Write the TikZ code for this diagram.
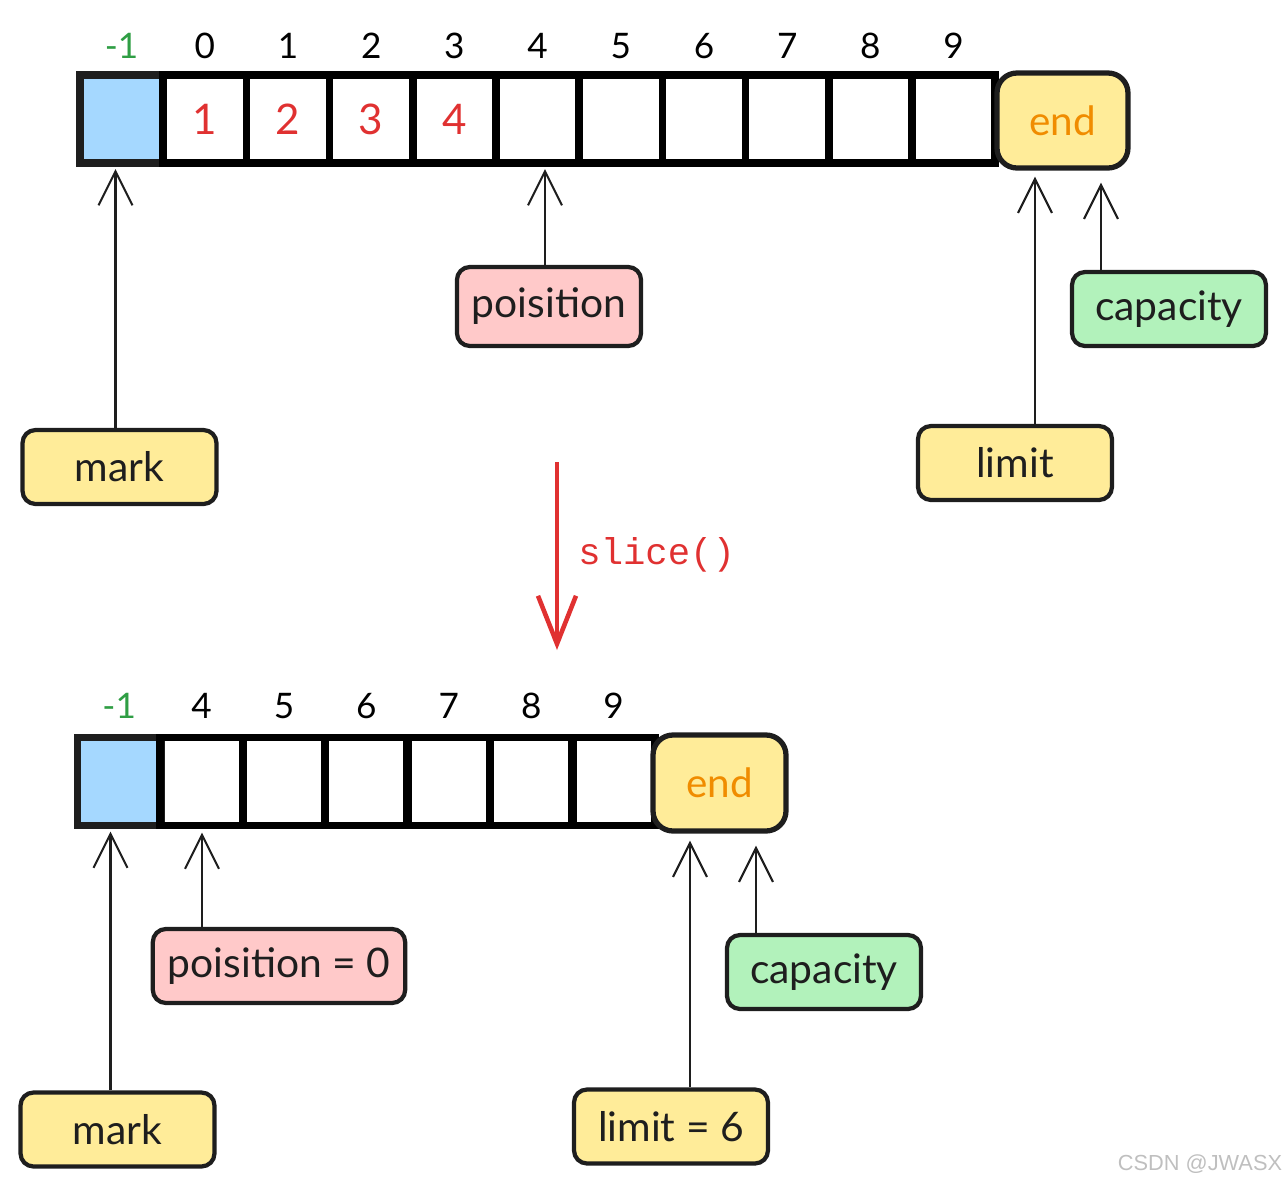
\documentclass[tikz,border=0pt]{standalone}
\usepackage{fontspec}
\setmainfont{Lato}
\setmonofont{Liberation Mono}
\newfontfamily\wmfont{Liberation Sans}
\usetikzlibrary{arrows.meta}
\definecolor{ink}{HTML}{1E1E1E}
\definecolor{cellblue}{HTML}{A5D8FF}
\definecolor{tagyellow}{HTML}{FFEC99}
\definecolor{tagpink}{HTML}{FFC9C9}
\definecolor{taggreen}{HTML}{B2F2BB}
\definecolor{sliceRed}{HTML}{E03131}
\definecolor{idxGreen}{HTML}{2F9E44}
\definecolor{endOrange}{HTML}{F08C00}
\begin{document}
\begin{tikzpicture}[>={Straight Barb[length=3.4mm,width=3.4mm]},
  cell/.style={draw=black,line width=2.2pt,minimum width=8.32mm,minimum height=8.8mm,inner sep=0pt,outer sep=0pt},
  tag/.style={draw=ink,line width=1.2pt,rounded corners=1.3mm,minimum height=7.4mm,minimum width=19.4mm,
    inner xsep=1.5mm,font=\fontsize{11.6}{13}\selectfont,text=ink},
  endbox/.style={draw=ink,fill=tagyellow,line width=1.5pt,rounded corners=2mm,minimum width=13.1mm,minimum height=9.5mm,
    font=\fontsize{11.5}{13}\selectfont,text=endOrange},
  idx/.style={anchor=base,font=\fontsize{10}{12}\selectfont},
  ptr/.style={->,draw=ink,line width=0.6pt}]
\useasboundingbox (0,0) rectangle (12.86,-11.86);

% before slice()
\node[cell,fill=cellblue,draw=ink] (a0) at (1.216,-1.19) {};
\node[idx,text=idxGreen] at ([yshift=1.7mm]a0.north) {-1};
\foreach \k [evaluate=\k as \lab using int(\k-1)] in {1,...,10}{
  \node[cell] (a\k) at ({1.216+0.832*\k},-1.19) {};
  \node[idx] at ([yshift=1.7mm]a\k.north) {\lab};
}
\foreach \k in {1,...,4}
  \node[text=sliceRed,font=\fontsize{12}{14}\selectfont] at (a\k) {\k};
\node[endbox] (endA) at (10.625,-1.205) {end};

\node[tag,fill=tagyellow] (markA) at (1.195,-4.67) {mark};
\node[tag,fill=tagpink,minimum width=17.4mm,minimum height=7.9mm] (posA) at (5.49,-3.065) {poisition};
\node[tag,fill=tagyellow] (limitA) at (10.15,-4.63) {limit};
\node[tag,fill=taggreen] (capA) at (11.69,-3.09) {capacity};

\draw[ptr] ([xshift=-0.04cm]markA.north) -- ([xshift=-0.04cm,yshift=-0.06cm]markA.north |- a0.south);
\draw[ptr] ([xshift=-0.04cm]posA.north) -- ([xshift=-0.04cm,yshift=-0.06cm]posA.north |- a5.south);
\draw[ptr] ([xshift=0.2cm]limitA.north) -- ([xshift=0.2cm,yshift=-0.06cm]limitA.north |- endA.south);
\draw[ptr] ([xshift=-0.68cm]capA.north) -- ([xshift=-0.68cm,yshift=-0.12cm]capA.north |- endA.south);

% slice()
\coordinate (s1) at (5.57,-4.62);
\coordinate (s2) at (5.57,-6.50);
\draw[->,draw=sliceRed,line width=1.3pt,>={Straight Barb[length=4.8mm,width=3.8mm]}] (s1) -- (s2);
\node[anchor=west,text=sliceRed,font=\ttfamily\fontsize{10.6}{13}\selectfont] at (5.66,-5.55) {slice()};

% after slice()
\node[cell,fill=cellblue,draw=ink] (b0) at (1.192,-7.815) {};
\node[idx,text=idxGreen] at ([yshift=1.9mm]b0.north) {-1};
\foreach \k [evaluate=\k as \lab using int(\k+3)] in {1,...,6}{
  \node[cell] (b\k) at ({1.192+0.824*\k},-7.815) {};
  \node[idx] at ([yshift=1.9mm]b\k.north) {\lab};
}
\node[endbox,minimum width=13.3mm,minimum height=9.6mm] (endB) at (7.195,-7.83) {end};

\node[tag,fill=tagyellow] (markB) at (1.175,-11.295) {mark};
\node[tag,fill=tagpink,minimum width=24.8mm] (posB) at (2.79,-9.66) {poisition = 0};
\node[tag,fill=tagyellow] (limitB) at (6.71,-11.265) {limit = 6};
\node[tag,fill=taggreen] (capB) at (8.24,-9.72) {capacity};

\draw[ptr] ([xshift=-0.07cm]markB.north) -- ([xshift=-0.07cm,yshift=-0.06cm]markB.north |- b0.south);
\draw[ptr] ([xshift=-0.77cm]posB.north) -- ([xshift=-0.77cm,yshift=-0.07cm]posB.north |- b1.south);
\draw[ptr] ([xshift=0.19cm]limitB.north) -- ([xshift=0.19cm,yshift=-0.07cm]limitB.north |- endB.south);
\draw[ptr] ([xshift=-0.68cm]capB.north) -- ([xshift=-0.68cm,yshift=-0.12cm]capB.north |- endB.south);

\node[text=black!25,font=\wmfont\fontsize{6.2}{7}\selectfont] (wm) at (12.0,-11.64) {CSDN @JWASX};
\end{tikzpicture}
\end{document}
